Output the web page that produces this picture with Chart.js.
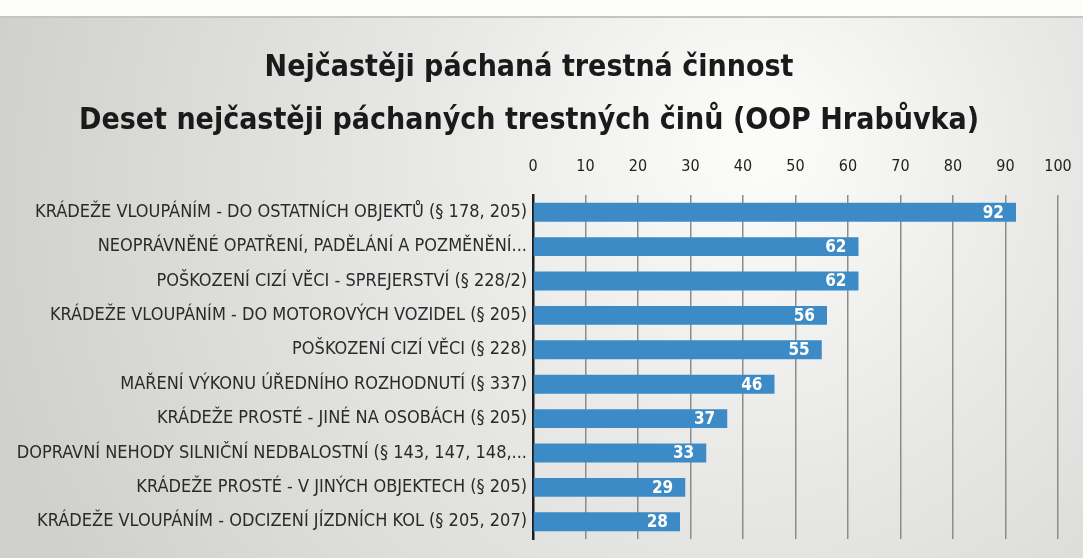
<!DOCTYPE html>
<html>
<head>
<meta charset="utf-8">
<script src="https://cdn.jsdelivr.net/npm/chart.js@4/dist/chart.umd.min.js"></script>
<style>
  html, body { margin: 0; padding: 0; background: #ffffff; }
  #wrap { width: 1083px; height: 558px; }
</style>
</head>
<body>
<div id="wrap"><canvas id="graf" width="1083" height="558"></canvas></div>
<script>
const kategorie = [
    "KRÁDEŽE VLOUPÁNÍM - DO OSTATNÍCH OBJEKTŮ (§ 178, 205)",
    "NEOPRÁVNĚNÉ OPATŘENÍ, PADĚLÁNÍ A POZMĚNĚNÍ...",
    "POŠKOZENÍ CIZÍ VĚCI - SPREJERSTVÍ (§ 228/2)",
    "KRÁDEŽE VLOUPÁNÍM - DO MOTOROVÝCH VOZIDEL (§ 205)",
    "POŠKOZENÍ CIZÍ VĚCI (§ 228)",
    "MAŘENÍ VÝKONU ÚŘEDNÍHO ROZHODNUTÍ (§ 337)",
    "KRÁDEŽE PROSTÉ - JINÉ NA OSOBÁCH (§ 205)",
    "DOPRAVNÍ NEHODY SILNIČNÍ NEDBALOSTNÍ (§ 143, 147, 148,...",
    "KRÁDEŽE PROSTÉ - V JINÝCH OBJEKTECH (§ 205)",
    "KRÁDEŽE VLOUPÁNÍM - ODCIZENÍ JÍZDNÍCH KOL (§ 205, 207)"
];
const pocty = [92, 62, 62, 56, 55, 46, 37, 33, 29, 28];
const titulek = [
    "Nejčastěji páchaná trestná činnost",
    "Deset nejčastěji páchaných trestných činů (OOP Hrabůvka)"
];

const pismo = "'Liberation Sans Narrow', 'DejaVu Sans Condensed', sans-serif";

// pozadi: bily pruh nahore a sede pozadi se svetlejsim stredem
const pozadi = {
    id: "pozadi",
    beforeDraw(chart) {
        const c = chart.ctx;
        const w = chart.width, h = chart.height;
        c.save();
        const g = c.createRadialGradient(760, 140, 30, 720, 200, 740);
        g.addColorStop(0, "#fbfbf9");
        g.addColorStop(0.4, "#e8e9e6");
        g.addColorStop(1, "#d0d1cd");
        c.fillStyle = g;
        c.fillRect(0, 0, w, h);
        c.fillStyle = "#fcfcf9";
        c.fillRect(0, 0, w, 16);
        c.fillStyle = "#c4c5c1";
        c.fillRect(0, 16, w, 2);
        c.restore();
    }
};

// hodnoty uvnitr konce sloupcu
const popisky = {
    id: "popisky",
    afterDatasetsDraw(chart) {
        const c = chart.ctx;
        const meta = chart.getDatasetMeta(0);
        c.save();
        c.font = "bold 17px " + pismo;
        c.fillStyle = "#ffffff";
        c.textAlign = "right";
        c.textBaseline = "middle";
        meta.data.forEach((bar, i) => {
            c.fillText(String(pocty[i]), bar.x - 12, bar.y + 1);
        });
        c.restore();
    }
};

new Chart(document.getElementById("graf").getContext("2d"), {
    type: "bar",
    data: {
        labels: kategorie,
        datasets: [{
            data: pocty,
            backgroundColor: "#3c8bc6",
            borderWidth: 0,
            categoryPercentage: 1,
            barPercentage: 0.55
        }]
    },
    options: {
        indexAxis: "y",
        responsive: false,
        animation: false,
        layout: { padding: { left: 0, right: 25, top: 0, bottom: 19 } },
        plugins: {
            legend: { display: false },
            tooltip: { enabled: false },
            title: {
                display: true,
                text: titulek,
                color: "#1a1a1a",
                font: { family: pismo, size: 30, weight: "bold", lineHeight: 1.75 },
                padding: { top: 42, bottom: 0 }
            }
        },
        scales: {
            x: {
                position: "top",
                min: 0,
                max: 100,
                ticks: {
                    stepSize: 10,
                    color: "#222222",
                    padding: 2,
                    font: { family: pismo, size: 16 }
                },
                grid: {
                    color: "#8c8c8a",
                    lineWidth: 1.5,
                    drawTicks: true,
                    tickLength: 17,
                    tickColor: "rgba(0,0,0,0)"
                },
                border: { display: false },
                afterFit(scale) { scale.height = 48; }
            },
            y: {
                ticks: {
                    color: "#2a2a2a",
                    padding: 6,
                    autoSkip: false,
                    font: { family: pismo, size: 18 }
                },
                grid: { display: false, drawTicks: false },
                border: { display: true, color: "#1e1e1e", width: 2.5 },
                afterFit(scale) { scale.width = 533; }
            }
        }
    },
    plugins: [pozadi, popisky]
});
</script>
</body>
</html>
